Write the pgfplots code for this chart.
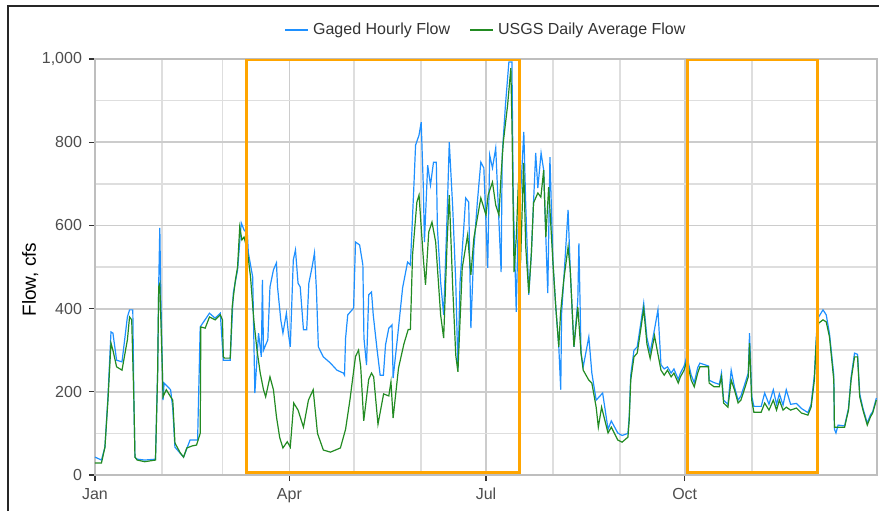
\documentclass[border=0pt]{standalone}
\usepackage{fontspec}
\setmainfont{Liberation Sans}
\usepackage{pgfplots}
\pgfplotsset{compat=1.18}
\definecolor{gaged}{RGB}{30,144,255}
\definecolor{usgs}{RGB}{34,139,34}
\definecolor{boxorange}{RGB}{255,165,0}
\definecolor{gridmaj}{RGB}{204,204,204}
\definecolor{gridmin}{RGB}{222,222,222}
\definecolor{panelc}{RGB}{190,190,190}
\definecolor{labelc}{RGB}{77,77,77}
\definecolor{tickc}{RGB}{51,51,51}

\begin{document}
\begin{tikzpicture}
\path[use as bounding box] (-47.5pt,-18pt) rectangle (392pt,237.5pt);
\draw[line width=0.8pt, black!85] (-43.5pt,-18pt) -- (-43.5pt,234.5pt) -- (392pt,234.5pt);
\begin{axis}[
    at={(0,0)}, anchor=south west,
    scale only axis, width=391pt, height=208pt,
    xmin=0, xmax=362, ymin=0, ymax=1000,
    xtick={0,90,181,273}, xticklabels={Jan,Apr,Jul,Oct},
    minor xtick={31,59,120,151,212,243,304,334},
    ytick={0,200,400,600,800,1000}, yticklabels={0,200,400,600,800,{1,000}},
    minor ytick={100,300,500,700,900},
    grid=both,
    major grid style={draw=gridmaj, line width=0.9pt},
    minor grid style={draw=gridmin, line width=0.8pt},
    tick align=outside, tick pos=left,
    major tick length=3pt, minor tick length=0pt,
    tick style={draw=tickc, line width=0.6pt},
    axis line style={draw=panelc, line width=0.6pt},
    /pgf/number format/assume math mode=true,
    ticklabel style={font=\fontsize{8}{9}\selectfont, text=labelc},
    ylabel={Flow, cfs},
    ylabel style={at={(axis description cs:-0.083,0.47)}, anchor=center, font=\fontsize{9.5}{11}\selectfont, text=black},
    legend style={at={(0.501,1.07)}, anchor=center, draw=none, fill=none,
        legend columns=2, font=\fontsize{8}{9}\selectfont, text=black!80,
        /tikz/every even column/.append style={column sep=7.5pt}},
    legend cell align=left,
    legend image code/.code={\draw[#1, line width=1pt] (0pt,0pt) -- (11.5pt,0pt);},
]
\addplot[gaged, line width=0.6pt] coordinates {
(0,43)(3,36)(4.6,67)(6,188)(7.4,344)(8.3,341)(10,276)(12.5,272)(15,380)(16,397)(17.5,397)(18,180)(18.5,43)(19.5,38)(23,36)(28,38)
(29,250)(29.5,460)(30,594)(30.5,421)(31.5,180)(32,221)(35,205)(36,160)(37,67)(41,43)(44,84)(47.5,84)(48.7,356)(53,389)(55.6,377)
(58,389)(59.4,276)(62.6,276)(64,437)(66,493)(67.7,606)(69,589)(70.5,581)(71,534)(73,476)(74,197)(75.7,341)(77,284)(77.5,469)
(78,300)(80,325)(81,452)(82.6,493)(84,510)(84.5,452)(86,373)(87,341)(88.6,389)(89.5,341)(90.4,308)(91.8,517)(92.8,541)(94,461)
(95,452)(96.5,349)(98,349)(99,461)(100.5,500)(101.6,534)(102.5,445)(103.4,308)(105.7,284)(109,269)(112,252)(115,245)(115.5,240)
(116,329)(117,385)(119.7,401)(120.6,560)(122.5,553)(124,505)(124.5,329)(125.7,264)(126.7,433)(128,440)(128.8,385)(130.5,305)
(132,240)(133.5,240)(134.5,313)(136,353)(137.5,361)(138,233)(140,329)(142.4,450)(144.7,512)(146,505)(147.5,680)(148.4,793)
(150,817)(151,848)(152,690)(152.5,560)(154,745)(155.3,697)(156.7,752)(158,752)(158.5,594)(160,464)(161.4,385)(163,625)(164,800)
(165.6,642)(167,464)(168,257)(169,464)(170.7,594)(171.6,666)(173,656)(174,353)(175.4,546)(177,656)(178.6,752)(180,738)(181.8,498)
(182.7,769)(184,738)(185.5,786)(187,608)(188,488)(188.5,769)(190,889)(191.6,993)(193,993)(193.6,673)(195,392)(196,625)(197,673)
(198.5,825)(199.4,649)(200.8,433)(202,533)(203,654)(204,774)(205,690)(206.5,774)(207.7,733)(208.7,572)(209.6,437)(210.6,764)
(212,510)(213.3,404)(214.7,308)(215.6,205)(216,389)(217,469)(219,637)(220,493)(221.7,308)(223.5,420)(224,557)(225,293)(226,260)
(228.6,332)(230,245)(232,180)(235,197)(237.5,110)(239,130)(242,101)(244,95)(246.7,100)(247.3,140)(248,240)(249.5,300)(251,308)
(252.8,370)(254,413)(255.5,330)(257,295)(259,350)(260.6,397)(262,265)(263.5,255)(265,260)(266.7,245)(268,255)(270,230)(271,245)
(272.7,262)(274,285)(276,240)(277.4,222)(279,258)(280,269)(284,262)(284.3,228)(286.6,222)(289,218)(290,245)(291,180)(293,170)
(294.5,252)(296,212)(297.7,180)(299,190)(301,222)(302.4,245)(303,341)(304,190)(305,165)(308.4,165)(310,197)(312,170)(314,205)
(315.5,170)(316.8,195)(318.5,168)(320,205)(322,170)(324.7,172)(327,160)(330,150)(331.5,170)(333,240)(334,340)(335,380)(337,397)
(338.5,385)(340,340)(342,240)(342.3,110)(343,101)(344,120)(347,118)(348.8,160)(350,235)(351.6,293)(353,290)(354,195)(355.5,160)
(357.5,125)(359,145)(360,152)(361.7,185)
};
\addlegendentry{Gaged Hourly Flow}
\addplot[usgs, line width=0.6pt] coordinates {
(0,29)(3,29)(4.6,67)(6,180)(7.4,317)(8.3,300)(10,260)(12.5,252)(15,325)(16,380)(17,373)(18,180)(18.5,43)(19.5,36)(23,32)(28,36)
(29,245)(29.5,452)(30,460)(31,284)(31.5,188)(33,205)(35,188)(36,180)(37,77)(39.5,53)(41,43)(42.5,65)(45,70)(47,72)(48.7,100)
(49,356)(51,353)(53,380)(55.6,373)(58,385)(59,373)(59.4,284)(60,281)(62.6,281)(63.5,404)(65,469)(66,500)(67,596)(68,565)(69,572)
(70.5,541)(72,476)(73.5,373)(75,300)(76.5,245)(78,205)(79,188)(81,236)(82.6,205)(84,140)(85.5,90)(87,65)(89,80)(90.4,67)(92,173)
(94,156)(96.5,115)(98.8,180)(101,205)(103,100)(105.7,60)(109,55)(113.6,65)(116,110)(118,180)(120.6,285)(122,300)(123,260)
(124.4,130)(126.7,230)(128,245)(129,236)(131,122)(133.6,195)(136,190)(137,224)(138,137)(140.5,257)(143,315)(145,350)(146,350)
(147,529)(149,656)(150,673)(152,520)(153,457)(154.5,584)(156,608)(157.7,560)(160,385)(161.4,329)(163,560)(164,673)(165.6,450)
(167,288)(168,248)(170,498)(172.5,577)(174,481)(175.4,570)(177,618)(178.6,666)(181,625)(182,673)(184,704)(185.5,649)(187,625)
(188,721)(189,800)(191,889)(192.5,978)(193,848)(194,488)(195,570)(196,704)(197,510)(198.4,750)(199.4,548)(200.8,437)(202,533)
(203,654)(205,678)(206.4,668)(207.7,733)(208.7,572)(210,692)(212,510)(213.3,404)(214.7,308)(215.5,389)(217,469)(219,548)(220,493)
(221.7,308)(223.5,404)(225,293)(226,252)(228.6,228)(230,221)(232,163)(233,115)(234.5,163)(236,132)(237.5,101)(239,115)(242,84)
(244,79)(246.7,91)(247.3,132)(248,228)(249.5,284)(251,293)(252.8,356)(254,400)(255.5,315)(257,280)(259,335)(260.5,293)(262,252)
(263.5,240)(265,252)(266.7,236)(268,245)(270,221)(271,236)(272.7,252)(274,276)(276,228)(277.4,212)(279,245)(280,260)(284,260)
(284.3,221)(286.6,212)(289,212)(290,236)(291,173)(293,163)(294.5,228)(296,205)(297.7,173)(299,180)(301,212)(302.4,236)(303,317)
(304,180)(305,151)(308.4,151)(310,173)(312,156)(314,180)(315.5,156)(316.8,180)(318.5,156)(320,163)(322,156)(324.7,161)(327,149)
(330,144)(331.5,163)(333,228)(334,332)(335,365)(337,373)(338.5,368)(340,332)(342,228)(342.3,115)(344,115)(347,115)(348.8,156)
(350,228)(351.6,284)(353,284)(354,188)(355.5,156)(357.5,120)(359,140)(360,149)(361.7,180)
};
\addlegendentry{USGS Daily Average Flow}
\draw[boxorange, line width=1.5pt] (axis cs:70,5) rectangle (axis cs:196.7,999);
\draw[boxorange, line width=1.5pt] (axis cs:274.5,5) rectangle (axis cs:334.6,999);
\end{axis}
\end{tikzpicture}
\end{document}
